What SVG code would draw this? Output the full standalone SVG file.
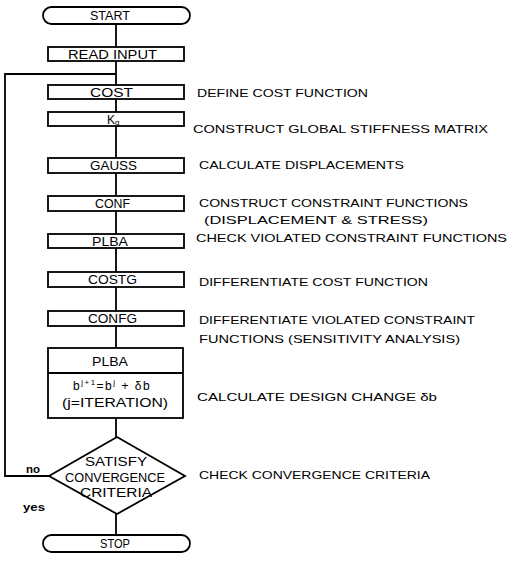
<svg xmlns="http://www.w3.org/2000/svg" width="508" height="562" viewBox="0 0 508 562">
<style>
.box{fill:#fff;stroke:#000;stroke-width:1.8}
.ln{fill:none;stroke:#000;stroke-width:1.8}
text{font-family:"Liberation Sans",Arial,sans-serif;font-size:12px;fill:#000}
.lbl{font-size:11.5px}
.yn{font-size:10px;font-weight:bold}
</style>
<rect width="508" height="562" fill="#fff"/>
<g id="connectors">
<path class="ln" d="M116,24V47M116,61V85M116,99V112M116,126V158M116,173V196M116,211V234M116,248V272M116,287V311M116,326V348M116,418V437M116,514V535"/>
<polyline class="ln" points="49,476 5,476 5,74 116,74"/>
<text class="yn" x="26" y="473" textLength="14" lengthAdjust="spacingAndGlyphs">no</text>
<text class="yn" x="23" y="511" textLength="22" lengthAdjust="spacingAndGlyphs">yes</text>
</g>
<g id="start"><rect class="box" x="43" y="7" width="147" height="17" rx="8.5"/><text x="90" y="20" textLength="40" lengthAdjust="spacingAndGlyphs">START</text></g>
<g id="read"><rect class="box" x="48" y="47" width="136" height="14"/><text x="68" y="58.5" textLength="89" lengthAdjust="spacingAndGlyphs">READ INPUT</text></g>
<g id="cost"><rect class="box" x="48" y="85" width="136" height="14"/><text x="90" y="96.5" textLength="43" lengthAdjust="spacingAndGlyphs">COST</text>
<text class="lbl" x="197" y="97" textLength="171" lengthAdjust="spacingAndGlyphs">DEFINE COST FUNCTION</text></g>
<g id="kg"><rect class="box" x="48" y="112" width="136" height="14"/><text x="107" y="123.5" font-size="12.5">K<tspan font-size="8" dy="1">g</tspan></text>
<text class="lbl" x="193" y="133" textLength="295" lengthAdjust="spacingAndGlyphs">CONSTRUCT GLOBAL STIFFNESS MATRIX</text></g>
<g id="gauss"><rect class="box" x="48" y="158" width="136" height="15"/><text x="90" y="170" textLength="47" lengthAdjust="spacingAndGlyphs">GAUSS</text>
<text class="lbl" x="199" y="169" textLength="205" lengthAdjust="spacingAndGlyphs">CALCULATE DISPLACEMENTS</text></g>
<g id="conf"><rect class="box" x="48" y="196" width="136" height="15"/><text x="95" y="208" textLength="35" lengthAdjust="spacingAndGlyphs">CONF</text>
<text class="lbl" x="199" y="207" textLength="269" lengthAdjust="spacingAndGlyphs">CONSTRUCT CONSTRAINT FUNCTIONS</text>
<text class="lbl" x="204" y="224" textLength="224" lengthAdjust="spacingAndGlyphs">(DISPLACEMENT &amp; STRESS)</text></g>
<g id="plba1"><rect class="box" x="48" y="234" width="136" height="14"/><text x="92" y="245.5" textLength="36" lengthAdjust="spacingAndGlyphs">PLBA</text>
<text class="lbl" x="196" y="242" textLength="311" lengthAdjust="spacingAndGlyphs">CHECK VIOLATED CONSTRAINT FUNCTIONS</text></g>
<g id="costg"><rect class="box" x="48" y="272" width="136" height="15"/><text x="88" y="284" textLength="49" lengthAdjust="spacingAndGlyphs">COSTG</text>
<text class="lbl" x="199" y="286" textLength="229" lengthAdjust="spacingAndGlyphs">DIFFERENTIATE COST FUNCTION</text></g>
<g id="confg"><rect class="box" x="48" y="311" width="136" height="15"/><text x="88" y="323" textLength="49" lengthAdjust="spacingAndGlyphs">CONFG</text>
<text class="lbl" x="199" y="324" textLength="276" lengthAdjust="spacingAndGlyphs">DIFFERENTIATE VIOLATED CONSTRAINT</text>
<text class="lbl" x="199" y="343" textLength="261" lengthAdjust="spacingAndGlyphs">FUNCTIONS (SENSITIVITY ANALYSIS)</text></g>
<g id="plba2"><rect class="box" x="48" y="348" width="135" height="70"/><line class="ln" x1="48" y1="373" x2="183" y2="373"/>
<text x="92" y="366" textLength="36" lengthAdjust="spacingAndGlyphs">PLBA</text>
<text x="73" y="390" font-size="13" letter-spacing="1.5">b<tspan font-size="8" dy="-5">j+1</tspan><tspan dy="5">=b</tspan><tspan font-size="8" dy="-5">j</tspan><tspan dy="5"> + δb</tspan></text>
<text x="62" y="407" textLength="106" lengthAdjust="spacingAndGlyphs">(j=ITERATION)</text>
<text class="lbl" x="197" y="401" textLength="240" lengthAdjust="spacingAndGlyphs">CALCULATE DESIGN CHANGE  δb</text></g>
<g id="check"><polygon class="box" points="117,437 185,476 117,514 49,476"/>
<text x="85" y="466" textLength="62" lengthAdjust="spacingAndGlyphs">SATISFY</text>
<text x="65" y="482" textLength="100" lengthAdjust="spacingAndGlyphs">CONVERGENCE</text>
<text x="80" y="497" textLength="72" lengthAdjust="spacingAndGlyphs">CRITERIA</text>
<text class="lbl" x="199" y="479" textLength="231" lengthAdjust="spacingAndGlyphs">CHECK CONVERGENCE CRITERIA</text></g>
<g id="stop"><rect class="box" x="43" y="535" width="147" height="17" rx="8.5"/><text x="100" y="548" textLength="30" lengthAdjust="spacingAndGlyphs">STOP</text></g>
</svg>
